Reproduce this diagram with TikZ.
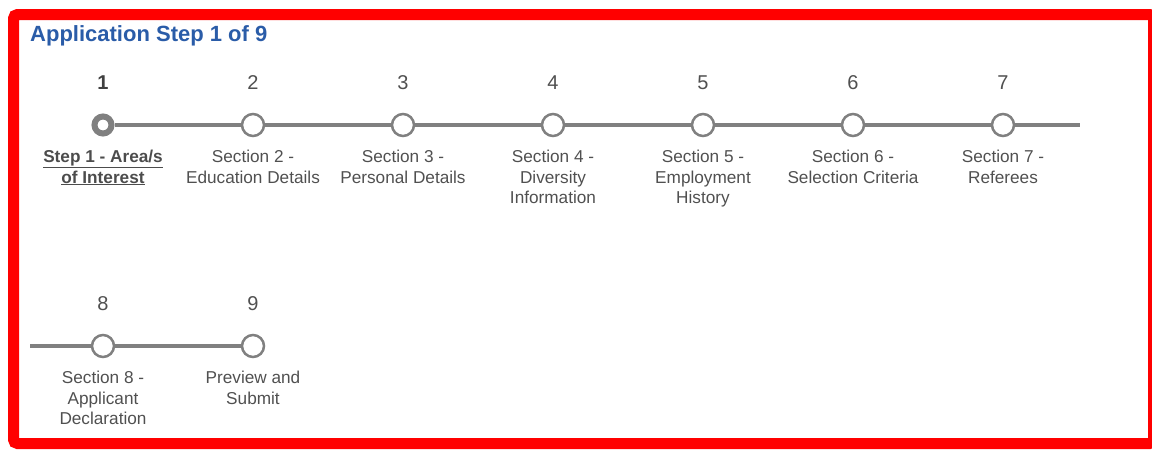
\documentclass[tikz,border=0pt]{standalone}
\usepackage{fontspec}
\setmainfont{Liberation Sans}
\usetikzlibrary{backgrounds}

\definecolor{stepgray}{RGB}{128,128,128}
\definecolor{textgray}{RGB}{80,80,80}
\definecolor{titleblue}{RGB}{42,92,168}
\definecolor{framered}{RGB}{255,0,0}

\tikzset{
  stepcircle/.style={circle, draw=stepgray, fill=white, line width=2.5pt, minimum size=22pt, inner sep=0pt},
  activecircle/.style={circle, draw=stepgray, fill=white, line width=6pt, minimum size=17pt, inner sep=0pt},
  stepnum/.style={font=\fontsize{20}{24}\selectfont, text=textgray, anchor=base},
  steplabel/.style={font=\fontsize{17.2}{20.4}\selectfont, text=textgray, align=center, anchor=north, inner sep=0pt},
  trackline/.style={draw=stepgray, line width=4.5pt},
}

\begin{document}
\begin{tikzpicture}[x=1pt, y=-1pt]

\useasboundingbox (0,0) rectangle (1152,450);

% Frame
\draw[line width=11pt, draw=framered, rounded corners=4pt] (13.5,14.5) rectangle (1153.5,443.5);

% Title
\node[anchor=base west, inner sep=0pt, text=titleblue, font=\fontsize{22}{26}\bfseries] (title) at (30,41) {Application Step 1 of 9};

% Top row circles
\node[activecircle] (s1) at (103,125) {};
\node[stepcircle] (s2) at (253,125) {};
\node[stepcircle] (s3) at (403,125) {};
\node[stepcircle] (s4) at (553,125) {};
\node[stepcircle] (s5) at (703,125) {};
\node[stepcircle] (s6) at (853,125) {};
\node[stepcircle] (s7) at (1003,125) {};
\coordinate (end1) at (1080,125);

% Bottom row circles
\coordinate (start2) at (30,346);
\node[stepcircle] (s8) at (103,346) {};
\node[stepcircle] (s9) at (253,346) {};

% Track
\begin{pgfonlayer}{background}
\draw[trackline] (s1) -- (s2) -- (s3) -- (s4) -- (s5) -- (s6) -- (s7) -- (end1);
\draw[trackline] (start2) -- (s8) -- (s9);
\end{pgfonlayer}

% Numbers
\node[stepnum, text=black!75, font=\fontsize{20}{24}\bfseries] (n1) at (103,89) {1};
\node[stepnum] (n2) at (253,89) {2};
\node[stepnum] (n3) at (403,89) {3};
\node[stepnum] (n4) at (553,89) {4};
\node[stepnum] (n5) at (703,89) {5};
\node[stepnum] (n6) at (853,89) {6};
\node[stepnum] (n7) at (1003,89) {7};
\node[stepnum] (n8) at (103,310) {8};
\node[stepnum] (n9) at (253,310) {9};

% Labels
\node[steplabel, text=black!70, font=\fontsize{17.2}{20.4}\bfseries] (l1) at (103,150) {\underline{Step 1 - Area/s}\\\underline{of Interest}};
\node[steplabel] (l2) at (253,150) {Section 2 -\\Education Details};
\node[steplabel] (l3) at (403,150) {Section 3 -\\Personal Details};
\node[steplabel] (l4) at (553,150) {Section 4 -\\Diversity\\Information};
\node[steplabel] (l5) at (703,150) {Section 5 -\\Employment\\History};
\node[steplabel] (l6) at (853,150) {Section 6 -\\Selection Criteria};
\node[steplabel] (l7) at (1003,150) {Section 7 -\\Referees};
\node[steplabel] (l8) at (103,371) {Section 8 -\\Applicant\\Declaration};
\node[steplabel] (l9) at (253,371) {Preview and\\Submit};

\end{tikzpicture}
\end{document}
